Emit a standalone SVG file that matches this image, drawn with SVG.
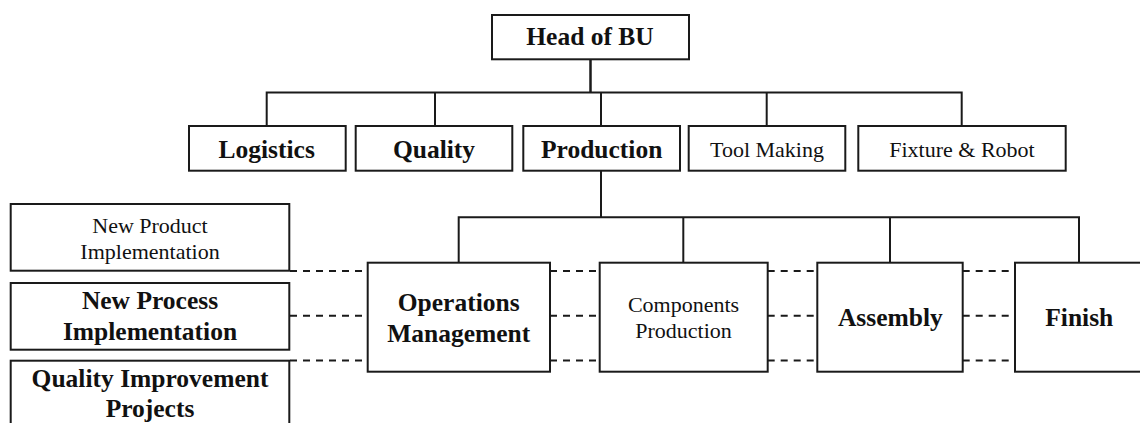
<svg xmlns="http://www.w3.org/2000/svg" width="1140" height="423" viewBox="0 0 1140 423">
  <style>
    .box { fill: #ffffff; stroke: #1a1a1a; stroke-width: 2; }
    .line { fill: none; stroke: #1a1a1a; stroke-width: 2; }
    .dash { fill: none; stroke: #1a1a1a; stroke-width: 2; stroke-dasharray: 7 6; }
    .b { font-family: "Liberation Serif", "Times New Roman", serif; font-weight: bold; font-size: 25.5px; fill: #111111; text-anchor: middle; }
    .r { font-family: "Liberation Serif", "Times New Roman", serif; font-size: 22px; fill: #111111; text-anchor: middle; }
  </style>

  <!-- connectors -->
  <g id="connectors">
    <path class="line" d="M590.5 59 V92.5" style="stroke-width:2.5"/>
    <path class="line" d="M266.7 126 V92.5 H961.7 V126"/>
    <path class="line" d="M435 92.5 V126"/>
    <path class="line" d="M601 92.5 V126"/>
    <path class="line" d="M766.7 92.5 V126"/>
    <path class="line" d="M601 171 V217.3"/>
    <path class="line" d="M458.7 262.7 V217.3 H1079 V262.7"/>
    <path class="line" d="M683.3 217.3 V262.7"/>
    <path class="line" d="M890 217.3 V262.7"/>
    <path class="dash" d="M290 271 H367.7 M550 271 H599.7 M767.7 271 H817.3 M962.7 271 H1015"/>
    <path class="dash" d="M290 315.7 H367.7 M550 315.7 H599.7 M767.7 315.7 H817.3 M962.7 315.7 H1015"/>
    <path class="dash" d="M290 360.5 H367.7 M550 360.5 H599.7 M767.7 360.5 H817.3 M962.7 360.5 H1015"/>
  </g>

  <!-- top level -->
  <g id="head-of-bu">
    <rect class="box" x="492" y="15" width="197" height="44.3"/>
    <text class="b" x="590" y="45">Head of BU</text>
  </g>

  <!-- departments -->
  <g id="logistics">
    <rect class="box" x="189" y="126" width="156.7" height="44.7"/>
    <text class="b" x="266.7" y="158">Logistics</text>
  </g>
  <g id="quality">
    <rect class="box" x="355.7" y="126" width="156.6" height="44.7"/>
    <text class="b" x="434" y="158">Quality</text>
  </g>
  <g id="production">
    <rect class="box" x="523.3" y="126" width="156.7" height="44.7"/>
    <text class="b" x="601.7" y="158">Production</text>
  </g>
  <g id="tool-making">
    <rect class="box" x="688.7" y="126" width="156.6" height="44.7"/>
    <text class="r" x="767" y="157.3">Tool Making</text>
  </g>
  <g id="fixture-robot">
    <rect class="box" x="858.3" y="126" width="207.4" height="44.7"/>
    <text class="r" x="962" y="157.3">Fixture &amp; Robot</text>
  </g>

  <!-- production units -->
  <g id="operations-management">
    <rect class="box" x="367.7" y="262.7" width="182.3" height="109"/>
    <text class="b" x="458.7" y="310.7">Operations</text>
    <text class="b" x="458.7" y="341.7">Management</text>
  </g>
  <g id="components-production">
    <rect class="box" x="599.7" y="262.7" width="168" height="109"/>
    <text class="r" x="683.5" y="311.7">Components</text>
    <text class="r" x="683.5" y="338.3">Production</text>
  </g>
  <g id="assembly">
    <rect class="box" x="817.3" y="262.7" width="145.4" height="109"/>
    <text class="b" x="890.3" y="326">Assembly</text>
  </g>
  <g id="finish">
    <rect class="box" x="1015" y="262.7" width="140" height="109"/>
    <text class="b" x="1079.3" y="326">Finish</text>
  </g>

  <!-- cross-functional programmes -->
  <g id="new-product-implementation">
    <rect class="box" x="10.7" y="204" width="278.6" height="66.7"/>
    <text class="r" x="150" y="232.7">New Product</text>
    <text class="r" x="150" y="259.3">Implementation</text>
  </g>
  <g id="new-process-implementation">
    <rect class="box" x="10.7" y="283" width="278.6" height="66.7"/>
    <text class="b" x="150" y="309">New Process</text>
    <text class="b" x="150" y="340">Implementation</text>
  </g>
  <g id="quality-improvement-projects">
    <rect class="box" x="10.7" y="360.7" width="278.6" height="80"/>
    <text class="b" x="150" y="387.3">Quality Improvement</text>
    <text class="b" x="150" y="416.7">Projects</text>
  </g>
</svg>
